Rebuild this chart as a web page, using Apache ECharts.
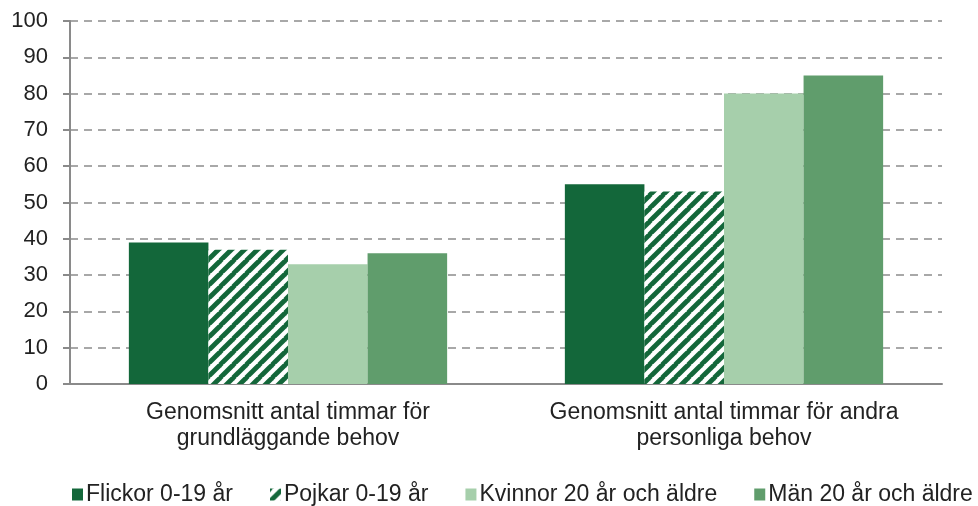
<!DOCTYPE html>
<html><head><meta charset="utf-8">
<script src="https://cdn.jsdelivr.net/npm/echarts@6/dist/echarts.min.js"></script>
<style>html,body{margin:0;padding:0;background:#fff}#c{width:978px;height:506px}</style>
</head><body><div id="c"></div>
<script>
const categories = ['Genomsnitt antal timmar för\ngrundläggande behov', 'Genomsnitt antal timmar för andra\npersonliga behov'];
const seriesNames = ['Flickor 0-19 år', 'Pojkar 0-19 år', 'Kvinnor 20 år och äldre', 'Män 20 år och äldre'];
const flickor = [39, 55];
const pojkar = [37, 53];
const kvinnor = [33, 80];
const man = [36, 85];
const yTicks = [0, 10, 20, 30, 40, 50, 60, 70, 80, 90, 100];

function stripes() {
  const s = 13, cv = document.createElement('canvas');
  cv.width = s; cv.height = s;
  const ctx = cv.getContext('2d');
  ctx.fillStyle = '#fff'; ctx.fillRect(0, 0, s, s);
  ctx.strokeStyle = '#13673a'; ctx.lineWidth = 4.8;
  for (const o of [-s, 0, s]) {
    ctx.beginPath(); ctx.moveTo(o - 1, s + 1); ctx.lineTo(o + s + 1, -1); ctx.stroke();
  }
  return cv;
}
const font = 'Liberation Sans, Arial, sans-serif';
const colors = ['#13673a', {image: stripes(), repeat: 'repeat'}, '#a6cfab', '#609d6c'];
const data = [flickor, pojkar, kvinnor, man];
const chart = echarts.init(document.getElementById('c'), null, {renderer: 'canvas'});
chart.setOption({
  animation: false,
  grid: {left: 70, right: 36, top: 21, bottom: 122},
  legend: {
    top: 483, left: 72, width: 906, padding: 0, itemWidth: 11, itemHeight: 12, itemGap: 37,
    textStyle: {fontFamily: font, fontSize: 23, color: '#222', padding: [0, 0, 0, -2]},
    icon: 'rect', data: seriesNames
  },
  xAxis: {
    type: 'category', data: categories,
    axisLine: {lineStyle: {color: '#8a8a8a', width: 2}},
    axisTick: {show: false},
    axisLabel: {fontFamily: font, fontSize: 23, color: '#222', margin: 16, lineHeight: 26, interval: 0}
  },
  yAxis: {
    type: 'value', min: 0, max: 100, interval: 10,
    axisLine: {show: true, lineStyle: {color: '#8a8a8a', width: 2}},
    axisTick: {show: true, length: 7, lineStyle: {color: '#8a8a8a', width: 2}},
    axisLabel: {fontFamily: font, fontSize: 22, color: '#222', margin: 22,
      formatter: v => yTicks.includes(v) ? String(v) : ''},
    splitLine: {lineStyle: {color: '#8c8c8c', width: 1.6, type: [8, 6]}}
  },
  series: seriesNames.map((n, i) => ({
    name: n, type: 'bar', data: data[i], barGap: '0%', barCategoryGap: '27%',
    itemStyle: {color: colors[i]}
  }))
});
</script></body></html>
